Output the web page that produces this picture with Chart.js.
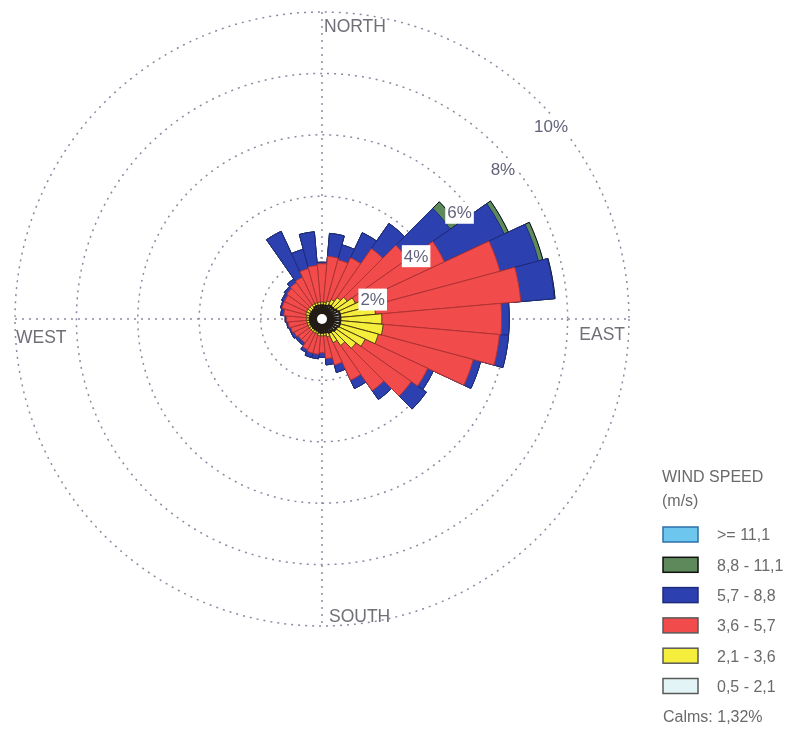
<!DOCTYPE html>
<html>
<head>
<meta charset="utf-8">
<title>Wind rose</title>
<script src="https://cdn.jsdelivr.net/npm/chart.js@4.4.1/dist/chart.umd.min.js"></script>
<style>
  html, body { margin: 0; padding: 0; background: #ffffff; }
  #wrap { position: relative; width: 793px; height: 734px; }
  canvas { display: block; }
</style>
</head>
<body>
<div id="wrap"><canvas id="rose" width="793" height="734"></canvas></div>
<script>
// 36 direction sectors, 10 degrees each, clockwise from north
const directions = [
  '0°', '10°', '20°', '30°', '40°', '50°', '60°', '70°', '80°',
  '90°', '100°', '110°', '120°', '130°', '140°', '150°', '160°', '170°',
  '180°', '190°', '200°', '210°', '220°', '230°', '240°', '250°', '260°',
  '270°', '280°', '290°', '300°', '310°', '320°', '330°', '340°', '350°'
];

// Wind speed classes (m/s)
const speedBands = ['0,5 - 2,1', '2,1 - 3,6', '3,6 - 5,7', '5,7 - 8,8', '8,8 - 11,1', '>= 11,1'];

// Frequency (%) of each speed class per direction sector
const band05to21 = [
  0.45, 0.45, 0.45, 0.50, 0.50, 0.50, 0.55, 0.60, 0.60,
  0.60, 0.60, 0.60, 0.55, 0.55, 0.50, 0.50, 0.45, 0.45,
  0.45, 0.45, 0.40, 0.40, 0.40, 0.40, 0.40, 0.40, 0.40,
  0.40, 0.40, 0.40, 0.40, 0.40, 0.40, 0.45, 0.45, 0.45
];
const band21to36 = [
  0.10, 0.10, 0.15, 0.20, 0.35, 0.50, 0.65, 0.85, 1.15,
  1.35, 1.40, 1.30, 1.00, 0.80, 0.55, 0.35, 0.15, 0.10,
  0.10, 0.10, 0.10, 0.10, 0.10, 0.10, 0.10, 0.10, 0.10,
  0.10, 0.10, 0.15, 0.15, 0.15, 0.15, 0.10, 0.10, 0.10
];
const band36to57 = [
  1.25, 1.50, 1.40, 1.50, 1.95, 2.40, 3.20, 4.55, 4.75,
  3.90, 3.80, 3.20, 2.25, 2.20, 1.80, 1.35, 0.95, 0.75,
  0.55, 0.60, 0.65, 0.60, 0.45, 0.45, 0.50, 0.55, 0.60,
  0.65, 0.75, 0.80, 0.80, 0.85, 0.90, 0.95, 1.15, 1.20
];
const band57to88 = [
  0.05, 0.75, 0.50, 0.90, 1.00, 1.70, 2.15, 1.30, 1.10,
  0.25, 0.30, 0.25, 0.20, 0.60, 0.35, 0.30, 0.25, 0.20,
  0.15, 0.15, 0.15, 0.10, 0.10, 0.10, 0.10, 0.05, 0.05,
  0.05, 0.10, 0.05, 0.10, 0.10, 0.15, 1.65, 0.65, 1.10
];
const band88to111 = [
  0.00, 0.00, 0.00, 0.00, 0.00, 0.30, 0.15, 0.15, 0.02,
  0.00, 0.00, 0.00, 0.00, 0.00, 0.00, 0.00, 0.00, 0.00,
  0.00, 0.00, 0.00, 0.00, 0.00, 0.00, 0.00, 0.00, 0.00,
  0.00, 0.00, 0.00, 0.00, 0.00, 0.00, 0.00, 0.00, 0.00
];
const band111plus = [
  0, 0, 0, 0, 0, 0, 0, 0, 0,
  0, 0, 0, 0, 0, 0, 0, 0, 0,
  0, 0, 0, 0, 0, 0, 0, 0, 0,
  0, 0, 0, 0, 0, 0, 0, 0, 0
];

const ringTicks = [2, 4, 6, 8, 10];
const calmsPercent = 1.32;
const compassLabels = ['NORTH', 'EAST', 'SOUTH', 'WEST'];

// Fill, outline and outline width per speed class
const bandFill = ['#e3f4f6', '#f6ee3c', '#f24b4b', '#2d40b0', '#5e8a5b', '#6cc6ee'];
const bandEdge = ['#231c16', '#4d3f12', '#b03333', '#1e2b7c', '#101010', '#2d6fa8'];
const bandEdgeWidth = [2, 1, 1, 1, 1, 1];
const keyEdge = ['#5a5a5a', '#5a5a5a', '#5a5a5a', '#1e2b7c', '#101010', '#2d6fa8'];

// Stack the classes: each ring of the rose reaches the running total
const bandSeries = [band05to21, band21to36, band36to57, band57to88, band88to111, band111plus];
const stacked = [];
let running = directions.map(() => 0);
bandSeries.forEach(series => {
  running = running.map((v, i) => Math.round((v + series[i]) * 1000) / 1000);
  stacked.push(running);
});

const datasets = stacked.map((values, k) => ({
  label: speedBands[k],
  data: values,
  backgroundColor: bandFill[k],
  borderColor: bandEdge[k],
  borderWidth: bandEdgeWidth[k]
}));

const FONT = "'Liberation Sans', Arial, Helvetica, sans-serif";

const roseDecor = {
  id: 'roseDecor',
  beforeDatasetsDraw(chart) {
    const r = chart.scales.r;
    const ctx = chart.ctx;
    const R = r.drawingArea;
    ctx.save();
    ctx.strokeStyle = '#8a8aa2';
    ctx.lineWidth = 1.5;
    ctx.setLineDash([2, 5]);
    ctx.beginPath();
    ctx.moveTo(r.xCenter, r.yCenter - R);
    ctx.lineTo(r.xCenter, r.yCenter + R);
    ctx.moveTo(r.xCenter - R, r.yCenter);
    ctx.lineTo(r.xCenter + R, r.yCenter);
    ctx.stroke();
    ctx.restore();
  },
  afterDatasetsDraw(chart) {
    const r = chart.scales.r;
    const ctx = chart.ctx;
    const R = r.drawingArea;
    const cx = r.xCenter, cy = r.yCenter;
    ctx.save();

    // calm centre
    ctx.fillStyle = '#ffffff';
    ctx.beginPath();
    ctx.arc(cx, cy, 5, 0, Math.PI * 2);
    ctx.fill();

    // ring percentages along the north-east diagonal
    ctx.font = '17px ' + FONT;
    ctx.textBaseline = 'middle';
    ctx.textAlign = 'left';
    ringTicks.forEach(v => {
      const d = r.getDistanceFromCenterForValue(v) * Math.SQRT1_2;
      const text = v + '%';
      const x = cx + d - 5;
      const y = cy - d + 24;
      const w = ctx.measureText(text).width;
      ctx.fillStyle = '#ffffff';
      ctx.fillRect(x - 2, y - 11, w + 4, 22);
      ctx.fillStyle = '#62627a';
      ctx.fillText(text, x, y + 1);
    });

    // compass names
    ctx.font = '17.5px ' + FONT;
    ctx.fillStyle = '#6f6f78';
    ctx.textBaseline = 'alphabetic';
    ctx.textAlign = 'left';
    ctx.fillText(compassLabels[0], cx + 2, cy - R + 20);
    ctx.textAlign = 'right';
    ctx.fillText(compassLabels[1], cx + R - 4, cy + 21);
    ctx.textAlign = 'left';
    ctx.fillText(compassLabels[2], cx + 7, cy + R - 4);
    ctx.fillText(compassLabels[3], cx - R + 1, cy + 24);

    // speed class key, strongest class on top
    const kx = 663, ky = 527, step = 30.3;
    ctx.font = '16px ' + FONT;
    ctx.fillStyle = '#6a6a6a';
    ctx.textAlign = 'left';
    ctx.fillText('WIND SPEED', 662, 482);
    ctx.fillText('(m/s)', 662, 506);
    const order = chart.data.datasets.map((ds, i) => i).reverse();
    order.forEach((di, row) => {
      const ds = chart.data.datasets[di];
      const y = ky + row * step;
      ctx.fillStyle = ds.backgroundColor;
      ctx.fillRect(kx, y, 35, 15);
      ctx.strokeStyle = keyEdge[di];
      ctx.lineWidth = 1.5;
      ctx.strokeRect(kx, y, 35, 15);
      ctx.fillStyle = '#6a6a6a';
      ctx.textBaseline = 'middle';
      ctx.fillText(ds.label, 717, y + 9);
    });
    ctx.textBaseline = 'alphabetic';
    ctx.fillText('Calms: ' + calmsPercent.toFixed(2).replace('.', ',') + '%', 663, 722);
    ctx.restore();
  }
};

new Chart(document.getElementById('rose'), {
  type: 'polarArea',
  data: { labels: directions, datasets },
  options: {
    responsive: false,
    animation: false,
    devicePixelRatio: 1,
    layout: { padding: { left: 15, top: 12, right: 164, bottom: 108 } },
    plugins: { legend: { display: false }, tooltip: { enabled: false } },
    elements: { arc: { borderAlign: 'center' } },
    scales: {
      r: {
        min: 0,
        max: 10,
        startAngle: -5,
        ticks: { display: false, stepSize: 2 },
        pointLabels: { display: false },
        angleLines: { display: false },
        grid: { circular: true, color: '#8a8aa2', lineWidth: 1.5 },
        border: { dash: [2, 5] }
      }
    }
  },
  plugins: [roseDecor]
});
</script>
</body>
</html>
